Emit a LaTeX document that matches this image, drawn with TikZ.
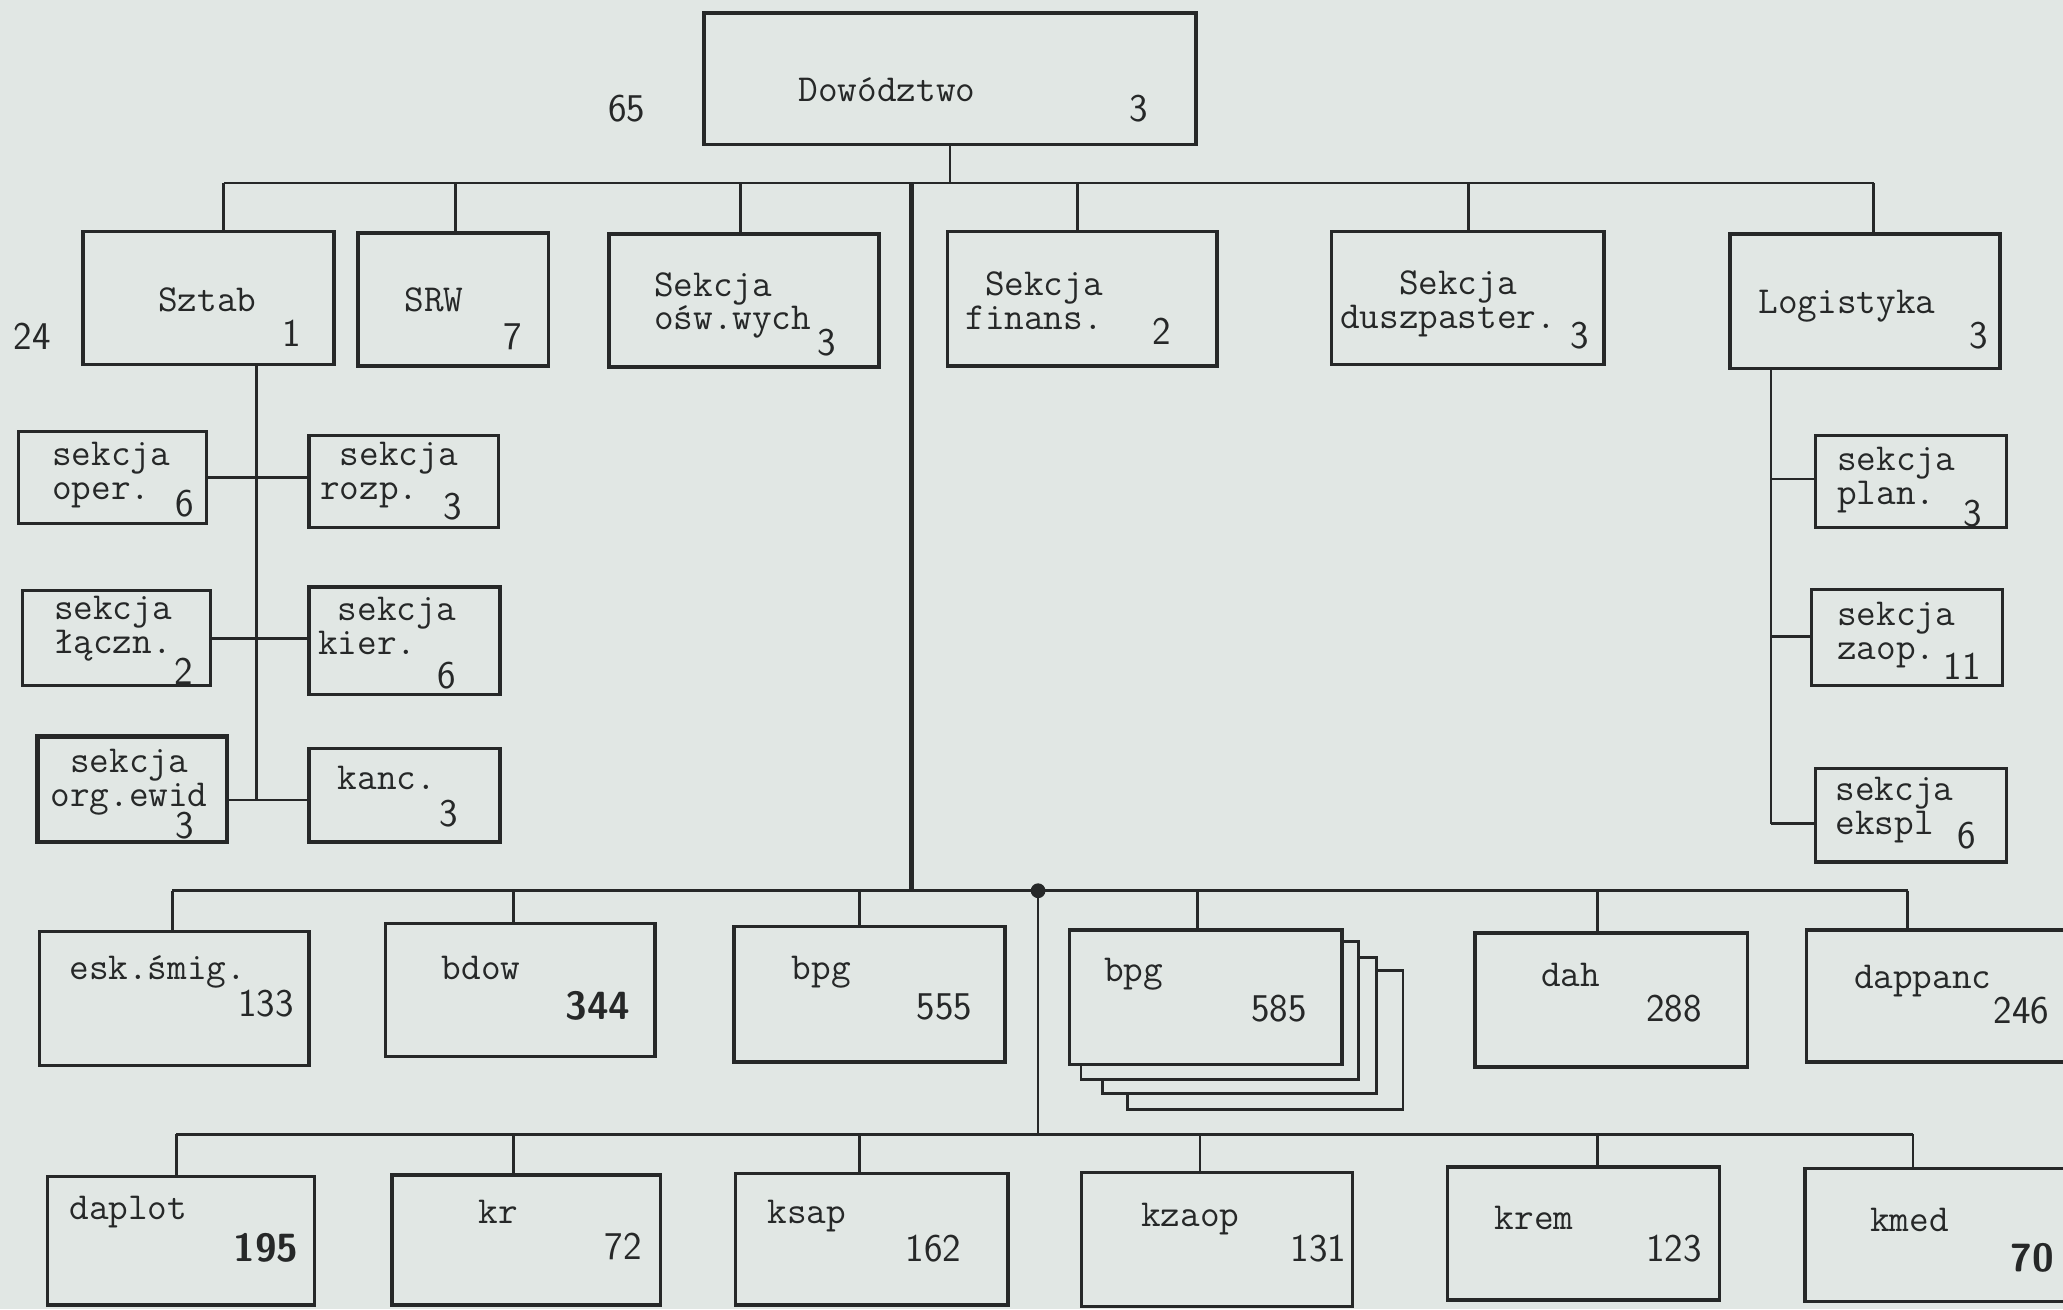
\documentclass[tikz,border=0pt]{standalone}
\usepackage{fontspec}
\usepackage{tikz}
\usetikzlibrary{fit}
\definecolor{paper}{RGB}{225,231,228}
\definecolor{ink}{RGB}{38,40,40}

\begin{document}
\begin{tikzpicture}[x=0.02cm,y=-0.02cm,
  box/.style={draw=ink,line width=1.5pt,inner sep=0pt},
  link/.style={draw=ink,line width=1.2pt},
  trunk/.style={draw=ink,line width=2.3pt},
  txt/.style={anchor=base west,inner sep=0pt,align=left,text=ink,
    font=\fontsize{16.5}{14.7}\selectfont\ttfamily\addfontfeature{FakeBold=2.5}},
  num/.style={anchor=base west,inner sep=0pt,text=ink,font=\fontsize{17}{18}\selectfont\sffamily}]
  \useasboundingbox (0,0) rectangle (1568,995);
  \fill[paper] (0,0) rectangle (1568,995);
  \clip (0,0) rectangle (1568,995);
  % boxes
  \foreach \n/\a/\b/\c/\d in {dow/535/10/909/110, sztab/63/176/254/277, srw/272/177/417/278,
      osw/463/178/668/279, fin/720/176/925/278, dusz/1012/176/1219/277, log/1315/178/1520/280,
      oper/14/328/157/398, rozp/235/331/379/401, laczn/17/449/160/521, kier/235/446/380/528,
      kanc/235/569/380/640, plan/1380/331/1525/401, zaop/1377/448/1522/521, ekspl/1380/584/1525/655,
      esk/30/708/235/810, bdow/293/702/498/803, bpga/558/704/764/807, bpgb/813/707/1020/809,
      dah/1121/709/1328/811, dap/1373/707/1600/807,
      daplot/36/894/239/992, kr/298/893/502/992, ksap/559/892/766/992, kzaop/822/891/1028/993,
      krem/1100/887/1307/988, kmed/1372/888/1600/989}
    \node[box,fit={(\a,\b) (\c,\d)}] (\n) {};
  \node[box,line width=2pt,fit={(28.5,560) (172.5,640)}] (ewid) {};
  \foreach \p/\r/\t/\l/\b/\q in {0/11/10/10/10/0, 11/25/22/26/21/10, 25/45/32/45/33/21}
    \draw[box,line width=1.2pt] ([shift={(\p,\t)}]bpgb.north east) -| ([shift={(\r,\b)}]bpgb.south east)
      -| ([shift={(\l,\q)}]bpgb.south west);
  % top level
  \foreach \n/\x in {sztab/170,srw/346,osw/563,fin/819,dusz/1116,log/1424}
    {\coordinate (u-\n) at (\x,139);
     \draw[link] (u-\n) -- (u-\n |- \n.north);}
  \draw[link] (u-sztab) -- (u-log);
  \draw[link] (dow.south) -- (dow.south |- u-srw);
  \coordinate (tr) at (693,677);
  \draw[trunk] (tr |- u-srw) -- (tr);
  % sztab and logistyka
  \coordinate (s1) at (195,363);
  \coordinate (s2) at (195,485);
  \coordinate (s3) at (195,608);
  \draw[link] (s3 |- sztab.south) -- (s3);
  \draw[link] (oper.east |- s1) -- (rozp.west |- s1);
  \draw[link] (laczn.east |- s2) -- (kier.west |- s2);
  \draw[link] (ewid.east |- s3) -- (kanc.west |- s3);
  \coordinate (l1) at (1346,364);
  \coordinate (l2) at (1346,484);
  \coordinate (l3) at (1346,626);
  \draw[link] (l3 |- log.south) -- (l3);
  \draw[link] (l1) -- (plan.west |- l1);
  \draw[link] (l2) -- (zaop.west |- l2);
  \draw[link] (l3) -- (ekspl.west |- l3);
  % lower rows
  \foreach \n/\x in {esk/131,bdow/390,bpga/653,bpgb/910,dah/1214,dap/1450}
    {\coordinate (v-\n) at (\x,677);
     \draw[link] (v-\n) -- (v-\n |- \n.north);}
  \draw[link] (v-esk) -- (v-dap);
  \foreach \n/\x in {daplot/134,kr/390,ksap/653,kzaop/912,krem/1214,kmed/1454}
    {\coordinate (w-\n) at (\x,862);
     \draw[link] (w-\n) -- (w-\n |- \n.north);}
  \draw[link] (w-daplot) -- (w-kmed);
  \coordinate (hub) at (789,677);
  \draw[link] (hub) -- (hub |- w-kr);
  \fill[ink] (hub) circle (3.2pt);
  % texts
  \foreach \x/\y/\t [count=\i] in {606.6/77.3/{Dowództwo}, 119.8/236.9/{Sztab}, 307/236.9/{SRW},
      496.8/250.8/{Sekcja\\ośw.wych}, 733.4/250.3/{\phantom{x}Sekcja\\finans.},
      1018.2/249.6/{\phantom{xxx}Sekcja\\duszpaster.}, 1336.2/238.2/{Logistyka},
      39.4/380/{sekcja\\oper.}, 243/380/{\phantom{x}sekcja\\rozp.},
      40.7/497/{sekcja\\łączn.}, 241.6/497.8/{\phantom{x}sekcja\\kier.},
      38/613/{\phantom{x}sekcja\\org.ewid}, 256.5/600.4/{kanc.},
      1396/383.8/{sekcja\\plan.}, 1396/501.6/{sekcja\\zaop.}, 1394.7/634.6/{sekcja\\ekspl},
      52.4/744.8/{esk.śmig.}, 335.5/744.3/{bdow}, 601.6/744.8/{bpg}, 838.9/746.1/{bpg},
      1170.9/749.9/{dah}, 1408.8/751.1/{dappanc},
      52.4/927.2/{daplot}, 363.5/929.8/{kr}, 583.1/929.8/{ksap}, 867/932.3/{kzaop},
      1135.8/934.8/{krem}, 1421.2/936.1/{kmed}}
    \node[txt] (t\i) at (\x,\y) {\t};
  \foreach \x/\y/\t [count=\i] in {461.8/92.5/65, 858/92.5/3, 10/266/24, 214.7/263.5/1,
      382/266/7, 621/270/3, 875.3/262.2/2, 1193.4/264.8/3, 1496.3/264.8/3,
      133/392.7/6, 336.6/395.2/3, 132.5/520.6/2, 332.5/523/6, 133/637/3, 334/628.3/3,
      1492.2/400.3/3, 1477/516.8/11, 1487.2/644.8/6,
      180.7/772.7/133, 429.4/775.2/{\bfseries 344}, 696.5/775.2/555, 950.6/776.5/585,
      1251/776.5/288, 1514.9/777.7/246,
      177.2/958.9/{\bfseries 195}, 459.3/957.6/72, 688/958.9/162, 980.6/958.9/131,
      1251/958.9/123, 1527.9/966.5/{\bfseries 70}}
    \node[num] (n\i) at (\x,\y) {\t};
\end{tikzpicture}
\end{document}
